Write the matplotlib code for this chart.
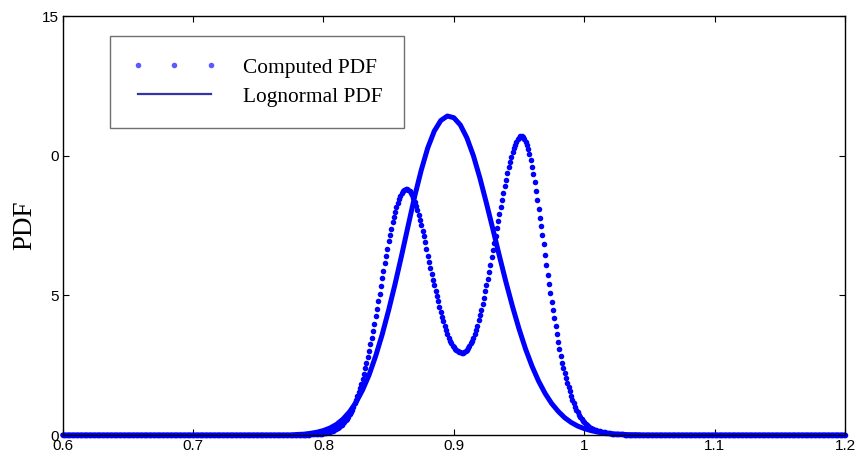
import numpy as np
import matplotlib
matplotlib.use("Agg")
from matplotlib import pyplot as plt
from matplotlib.lines import Line2D

# computed PDF, one value every 0.001 from 0.6 to 1.2
comp_mid = [
    0.02, 0.02, 0.02, 0.03, 0.03, 0.03, 0.04, 0.04, 0.05, 0.05,
    0.06, 0.07, 0.08, 0.09, 0.10, 0.12, 0.13, 0.15, 0.17, 0.20,
    0.22, 0.25, 0.29, 0.33, 0.37, 0.42, 0.47, 0.53, 0.59, 0.66,
    0.74, 0.82, 0.91, 1.02, 1.13, 1.25, 1.39, 1.53, 1.68, 1.84,
    2.01, 2.20, 2.39, 2.59, 2.80, 3.02, 3.25, 3.49, 3.74, 3.99,
    4.25, 4.52, 4.79, 5.06, 5.34, 5.61, 5.88, 6.15, 6.42, 6.67,
    6.93, 7.16, 7.39, 7.61, 7.81, 8.00, 8.17, 8.32, 8.46, 8.57,
    8.66, 8.73, 8.77, 8.80, 8.80, 8.78, 8.74, 8.67, 8.58, 8.47,
    8.35, 8.21, 8.05, 7.88, 7.70, 7.51, 7.31, 7.11, 6.90, 6.67,
    6.42, 6.20, 5.98, 5.77, 5.56, 5.36, 5.16, 4.97, 4.78, 4.60,
    4.42, 4.24, 4.07, 3.91, 3.75, 3.61, 3.48, 3.37, 3.28, 3.20,
    3.14, 3.09, 3.05, 3.01, 2.98, 2.96, 2.95, 2.95, 2.97, 3.00,
    3.05, 3.11, 3.19, 3.28, 3.38, 3.49, 3.62, 3.76, 3.92, 4.10,
    4.29, 4.49, 4.70, 4.92, 5.14, 5.37, 5.60, 5.84, 6.10, 6.36,
    6.62, 6.88, 7.14, 7.40, 7.66, 7.92, 8.17, 8.42, 8.67, 8.91,
    9.14, 9.37, 9.58, 9.78, 9.97, 10.14, 10.28, 10.40, 10.50, 10.58,
    10.64, 10.69, 10.70, 10.67, 10.60, 10.50, 10.38, 10.24, 10.06, 9.85,
    9.61, 9.35, 9.06, 8.74, 8.40, 8.10, 7.78, 7.48, 7.17, 6.83,
    6.46, 6.10, 5.74, 5.40, 5.07, 4.76, 4.47, 4.19, 3.91, 3.62,
    3.34, 3.07, 2.82, 2.59, 2.40, 2.21, 2.03, 1.86, 1.71, 1.56,
    1.40, 1.26, 1.13, 1.01, 0.90, 0.81, 0.72, 0.64, 0.57, 0.51,
    0.46, 0.41, 0.37, 0.33, 0.29, 0.26, 0.23, 0.21, 0.19, 0.17,
    0.15, 0.14, 0.13, 0.12, 0.11, 0.10, 0.09, 0.08, 0.07, 0.07,
    0.06, 0.05, 0.05, 0.04, 0.04, 0.03, 0.03, 0.03, 0.02, 0.02,
    0.02,
]
comp_x = np.round(0.6 + 0.001 * np.arange(601), 3)
comp_y = [0.0] * 190 + comp_mid + [0.0] * 170

# lognormal fit, one value every 0.005 from 0.6 to 1.2
logn_mid = [
    0.02, 0.03, 0.06, 0.10, 0.16, 0.25, 0.38, 0.57, 0.83, 1.17,
    1.61, 2.15, 2.82, 3.59, 4.47, 5.42, 6.44, 7.50, 8.55, 9.48,
    10.28, 10.88, 11.26, 11.42, 11.36, 11.10, 10.64, 10.00, 9.20, 8.30,
    7.36, 6.40, 5.47, 4.60, 3.80, 3.08, 2.46, 1.93, 1.49, 1.13,
    0.85, 0.62, 0.45, 0.32, 0.23, 0.16, 0.11, 0.07, 0.05, 0.03,
    0.02, 0.01, 0.01,
]
logn_x = np.round(0.6 + 0.005 * np.arange(121), 3)
logn_y = [0.0] * 36 + logn_mid + [0.0] * 32

x_ticks = [0.6, 0.7, 0.8, 0.9, 1.0, 1.1, 1.2]
x_labels = ['0.6', '0.7', '0.8', '0.9', '1', '1.1', '1.2']
y_ticks = [0, 5, 10, 15]
y_labels = ['0', '5', '0', '15']

fig = plt.figure(figsize=(8.55, 4.58), dpi=100)
ax = fig.add_axes([0.0733, 0.0502, 0.915, 0.9148])

ax.plot(comp_x, comp_y, linestyle='none', marker='o', markersize=4.0,
        markeredgewidth=0, color='#0000ff', clip_on=False)
ax.plot(logn_x, logn_y, '-', lw=3.6, color='#0000ff',
        solid_capstyle='round', solid_joinstyle='round', clip_on=False)

ax.set_xlim(0.6, 1.2)
ax.set_ylim(0, 15)
ax.set_xticks(x_ticks)
ax.set_xticklabels(x_labels, fontfamily='Liberation Sans', fontsize=11)
ax.set_yticks(y_ticks)
ax.set_yticklabels(y_labels, fontfamily='Liberation Sans', fontsize=11)
ax.tick_params(direction='in', length=4, width=0.8, top=True, right=True, pad=3)
for s in ax.spines.values():
    s.set_linewidth(1.0)

ax.set_ylabel('PDF', fontfamily='Liberation Serif', fontsize=19.5)
ax.yaxis.set_label_coords(-0.033, 0.5)

h1 = Line2D([], [], linestyle='none', marker='o', markersize=4,
            markeredgewidth=0, color='#5a5aff')
h2 = Line2D([], [], linestyle='-', lw=1.6, color='#3333aa')
leg = ax.legend([h1, h2], ['Computed PDF', 'Lognormal PDF'],
                loc='upper left', bbox_to_anchor=(0.0605, 0.952),
                borderaxespad=0, numpoints=3, handlelength=4.0,
                handletextpad=1.2, borderpad=1.0, labelspacing=0.43,
                fancybox=False, framealpha=1,
                prop={'family': 'Liberation Serif', 'size': 15.4})
leg.get_frame().set_edgecolor('#707070')
leg.get_frame().set_linewidth(1.0)

fig.savefig('out.png', dpi=100)
